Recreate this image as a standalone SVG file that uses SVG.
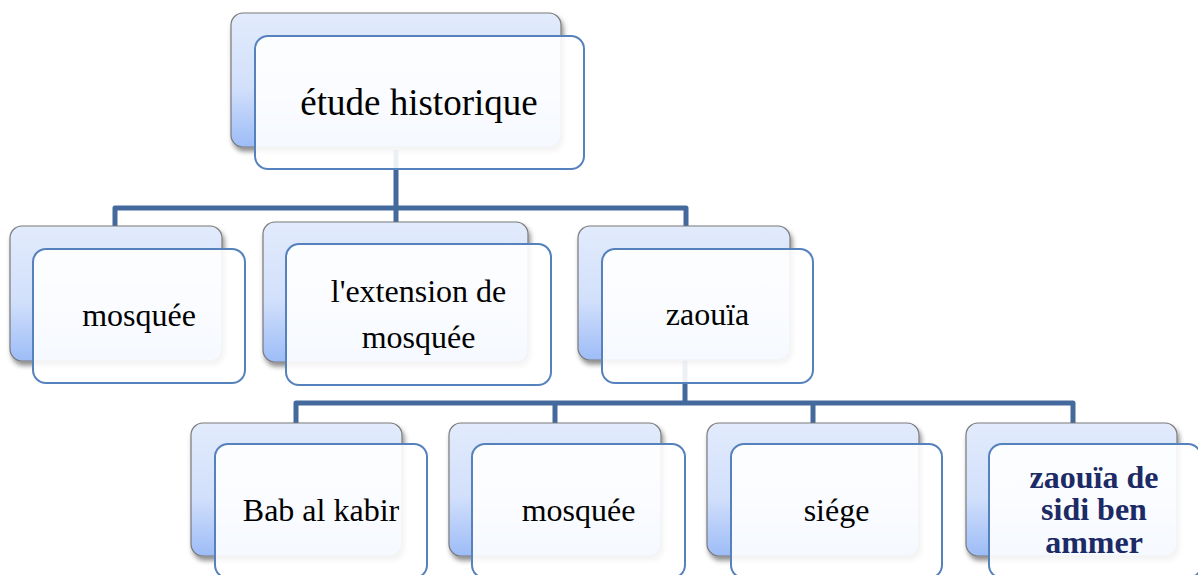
<svg xmlns="http://www.w3.org/2000/svg" width="1198" height="575" viewBox="0 0 1198 575">
<defs>
<linearGradient id="bg" x1="0" y1="0" x2="0" y2="1">
<stop offset="0" stop-color="#e2ebfc"/>
<stop offset="0.55" stop-color="#d2e0fb"/>
<stop offset="1" stop-color="#9dbcf7"/>
</linearGradient>
<filter id="sh" x="-10%" y="-10%" width="125%" height="130%">
<feDropShadow dx="2" dy="4" stdDeviation="2.5" flood-color="#000" flood-opacity="0.45"/>
</filter>
</defs>
<style>
.back{fill:url(#bg);stroke:#7a7a7a;stroke-width:1.2;filter:url(#sh)}
.front{fill:#ffffff;fill-opacity:0.9;stroke:#5582bd;stroke-width:2}
.conn{fill:none;stroke:#44699c;stroke-width:5;stroke-linejoin:round}
.t{font-family:"Liberation Serif","Times New Roman",serif;font-size:32px;fill:#000;text-anchor:middle}
.big{font-size:37px}
.b{font-weight:bold;fill:#1c2a66}
</style>
<rect width="1198" height="575" fill="#ffffff"/>
<g id="connectors">
<path class="conn" d="M396 150 V208 M115 228 V208 H686 V228 M396 208 V224"/>
<path class="conn" d="M685 360 V403 M296 425 V403 H1073 V425 M555 403 V425 M813 403 V425"/>
</g>
<g id="n0">
<rect class="back" x="231" y="13" width="330" height="134" rx="12"/>
<rect class="front" x="255" y="36" width="329" height="133" rx="13"/>
<text class="t big" x="419" y="115">étude historique</text>
</g>
<g id="n1">
<rect class="back" x="10" y="226" width="212" height="135" rx="12"/>
<rect class="front" x="33" y="249" width="212" height="134" rx="13"/>
<text class="t" x="139" y="326">mosquée</text>
</g>
<g id="n2">
<rect class="back" x="263" y="222" width="265" height="140" rx="12"/>
<rect class="front" x="286" y="244" width="265" height="141" rx="13"/>
<text class="t" x="418.5" y="302">l'extension de</text>
<text class="t" x="418.5" y="348">mosquée</text>
</g>
<g id="n3">
<rect class="back" x="578" y="226" width="212" height="134" rx="12"/>
<rect class="front" x="602" y="249" width="211" height="134" rx="13"/>
<text class="t" x="707.5" y="325">zaouïa</text>
</g>
<g id="n4">
<rect class="back" x="191" y="423" width="211" height="133" rx="12"/>
<rect class="front" x="215" y="444" width="212" height="134" rx="13"/>
<text class="t" x="321" y="521">Bab al kabir</text>
</g>
<g id="n5">
<rect class="back" x="449" y="423" width="212" height="133" rx="12"/>
<rect class="front" x="472" y="444" width="213" height="134" rx="13"/>
<text class="t" x="578.5" y="521">mosquée</text>
</g>
<g id="n6">
<rect class="back" x="707" y="423" width="212" height="133" rx="12"/>
<rect class="front" x="731" y="444" width="211" height="134" rx="13"/>
<text class="t" x="836.5" y="521">siége</text>
</g>
<g id="n7">
<rect class="back" x="966" y="423" width="211" height="133" rx="12"/>
<rect class="front" x="989" y="444" width="212" height="134" rx="13"/>
<text class="t b" x="1094" y="488">zaouïa de</text>
<text class="t b" x="1094" y="520">sidi ben</text>
<text class="t b" x="1094" y="553">ammer</text>
</g>
</svg>
